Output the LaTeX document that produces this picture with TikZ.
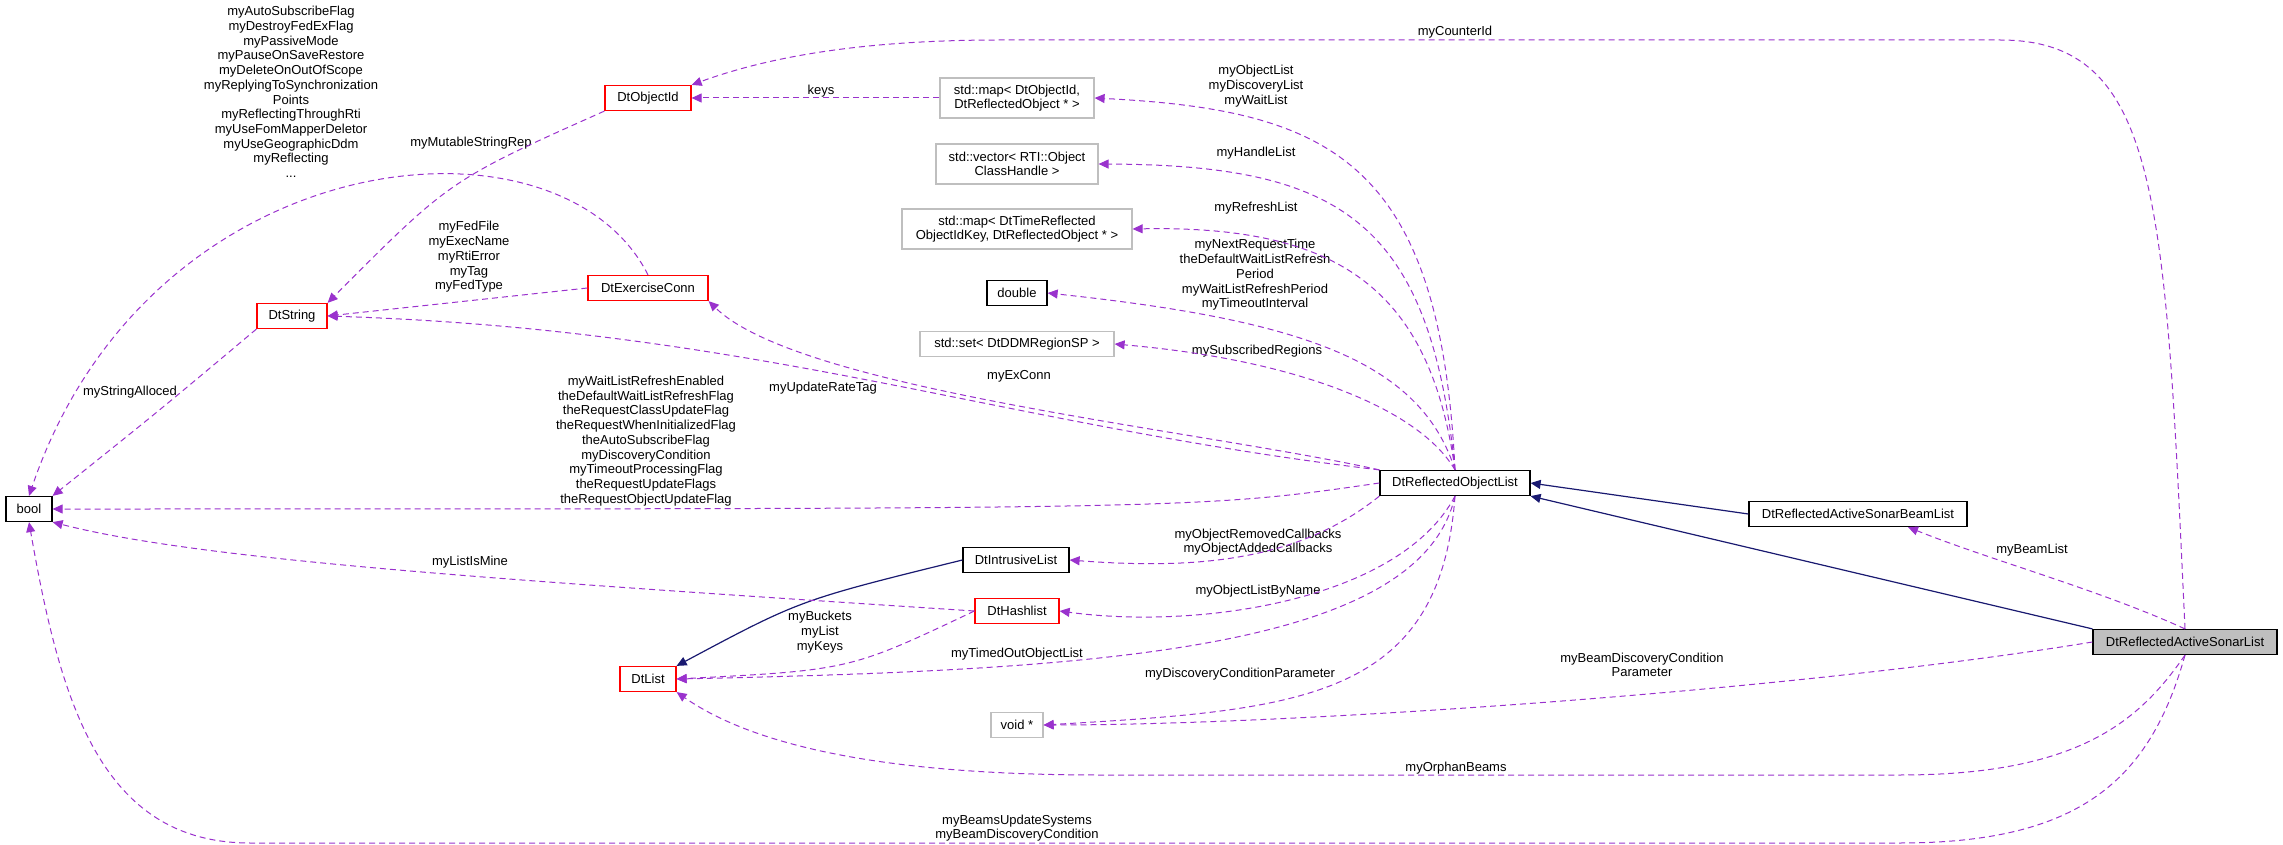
\documentclass[tikz,border=0pt]{standalone}
\usepackage{fontspec}
\setmainfont{Liberation Sans}
\usetikzlibrary{arrows.meta}
\definecolor{dep}{HTML}{9A32CD}
\definecolor{inh}{HTML}{191970}
\begin{document}
\begin{tikzpicture}[x=0.5pt,y=-0.5pt,
  every node/.style={font=\fontsize{6.5}{7.35}\selectfont, align=center, inner sep=1pt},
  cls/.style={draw, line width=0.6pt, minimum height=12.5pt, inner sep=1.5pt},
  red/.style={cls, draw=red},
  blk/.style={cls, draw=black},
  gry/.style={cls, draw=black!25},
  lbl/.style={},
  use/.style={draw=dep, dashed, dash pattern=on 3pt off 2pt, line width=0.5pt, -{Triangle[length=5pt,width=4.5pt,fill=dep]}},
  isa/.style={draw=inh, line width=0.6pt, -{Triangle[length=5pt,width=4.5pt,fill=inh]}}]
\useasboundingbox (0,0) rectangle (2283,845);
% nodes
\node[blk, minimum width=23pt] (bool) at (29,509) {bool};
\node[red, minimum width=43pt] (objid) at (648,98) {DtObjectId};
\node[red, minimum width=35pt] (dtstring) at (292,316) {DtString};
\node[red, minimum width=60pt] (exconn) at (648,288) {DtExerciseConn};
\node[gry, minimum width=77pt, minimum height=20pt] (map1) at (1017,98) {std::map\textless{} DtObjectId,\\ DtReflectedObject * \textgreater};
\node[gry, minimum width=81pt, minimum height=20pt] (vector) at (1017,164) {std::vector\textless{} RTI::Object\\ ClassHandle \textgreater};
\node[gry, minimum width=115pt, minimum height=20pt] (map2) at (1017,229) {std::map\textless{} DtTimeReflected\\ ObjectIdKey, DtReflectedObject * \textgreater};
\node[blk, minimum width=30pt] (double) at (1017,293) {double};
\node[gry, minimum width=97pt] (set) at (1017,344) {std::set\textless{} DtDDMRegionSP \textgreater};
\node[blk, minimum width=75pt] (rol) at (1455,483) {DtReflectedObjectList};
\node[blk, minimum width=109pt] (beam) at (1858,514) {DtReflectedActiveSonarBeamList};
\node[blk, fill=black!25, minimum width=92pt] (sonar) at (2185,642) {DtReflectedActiveSonarList};
\node[blk, minimum width=53pt] (intr) at (1016,560) {DtIntrusiveList};
\node[red, minimum width=42pt] (hash) at (1017,611) {DtHashlist};
\node[red, minimum width=28pt] (dtlist) at (648,679) {DtList};
\node[gry, minimum width=26pt] (void) at (1017,725) {void *};
% labels
\node (l1) at (291,92) {myAutoSubscribeFlag\\myDestroyFedExFlag\\myPassiveMode\\myPauseOnSaveRestore\\myDeleteOnOutOfScope\\myReplyingToSynchronization\\Points\\myReflectingThroughRti\\myUseFomMapperDeletor\\myUseGeographicDdm\\myReflecting\\...};
\node (l2) at (471,143) {myMutableStringRep};
\node (l3) at (469,257) {myFedFile\\myExecName\\myRtiError\\myTag\\myFedType};
\node (l4) at (130,392) {myStringAlloced};
\node (l5) at (821,91) {keys};
\node (l6) at (1455,32) {myCounterId};
\node (l7) at (1256,86) {myObjectList\\myDiscoveryList\\myWaitList};
\node (l8) at (1256,153) {myHandleList};
\node (l9) at (1256,208) {myRefreshList};
\node (l10) at (1255,275) {myNextRequestTime\\theDefaultWaitListRefresh\\Period\\myWaitListRefreshPeriod\\myTimeoutInterval};
\node (l11) at (1257,351) {mySubscribedRegions};
\node (l12) at (1019,376) {myExConn};
\node (l13) at (823,388) {myUpdateRateTag};
\node (l14) at (646,441) {myWaitListRefreshEnabled\\theDefaultWaitListRefreshFlag\\theRequestClassUpdateFlag\\theRequestWhenInitializedFlag\\theAutoSubscribeFlag\\myDiscoveryCondition\\myTimeoutProcessingFlag\\theRequestUpdateFlags\\theRequestObjectUpdateFlag};
\node (l15) at (470,562) {myListIsMine};
\node (l16) at (1258,542) {myObjectRemovedCallbacks\\myObjectAddedCallbacks};
\node (l17) at (1258,591) {myObjectListByName};
\node (l18) at (820,632) {myBuckets\\myList\\myKeys};
\node (l19) at (1017,654) {myTimedOutObjectList};
\node (l20) at (1240,674) {myDiscoveryConditionParameter};
\node (l21) at (1642,665) {myBeamDiscoveryCondition\\Parameter};
\node (l22) at (2032,550) {myBeamList};
\node (l23) at (1456,768) {myOrphanBeams};
\node (l24) at (1017,828) {myBeamsUpdateSystems\\myBeamDiscoveryCondition};
% connectors from DtReflectedObjectList
\draw[use] (rol.north) .. controls (1440,160) and (1330,110) .. (map1.east);
\draw[use] (rol.north) .. controls (1430,220) and (1340,165) .. (vector.east);
\draw[use] (rol.north) .. controls (1430,290) and (1340,225) .. (map2.east);
\draw[use] (rol.north) .. controls (1420,360) and (1300,320) .. (double.east);
\draw[use] (rol.north) .. controls (1420,410) and (1300,360) .. (set.east);
\draw[use] (rol.north west) .. controls (1200,430) and (800,390) .. (exconn.south east);
\draw[use] (rol.north west) .. controls (1000,425) and (760,330) .. (dtstring.east);
\draw[use] (rol.west) .. controls (1200,509) .. (bool.east);
\draw[use] (rol.south west) .. controls (1300,560) and (1200,570) .. (intr.east);
\draw[use] (rol.south) .. controls (1400,600) and (1200,630) .. (hash.east);
\draw[use] (rol.south) .. controls (1420,650) and (1100,670) .. (dtlist.east);
\draw[use] (rol.south) .. controls (1440,700) and (1300,710) .. (void.east);
% connectors from DtReflectedActiveSonarList
\coordinate (c1) at (2000,40);
\coordinate (c2) at (1000,40);
\draw[use] (sonar.north) .. controls (2165,200) and (2160,40) .. (c1) -- (c2) .. controls (850,40) and (760,60) .. (objid.north east);
\draw[isa] (sonar.north west) -- (rol.south east);
\draw[use] (sonar.north) .. controls (2100,590) and (1990,560) .. ([xshift=25pt]beam.south);
\draw[use] (sonar.west) .. controls (1800,690) and (1300,725) .. (void.east);
\coordinate (c3) at (1900,775);
\coordinate (c4) at (1100,775);
\draw[use] (sonar.south) .. controls (2140,720) and (2080,775) .. (c3) -- (c4) .. controls (900,775) and (760,750) .. (dtlist.south east);
\coordinate (c5) at (1900,843);
\coordinate (c6) at (250,843);
\draw[use] (sonar.south) .. controls (2150,780) and (2080,843) .. (c5) -- (c6) .. controls (100,843) and (60,700) .. (bool.south);
% others
\draw[isa] (beam.west) -- (rol.east);
\draw[isa] (intr.west) .. controls (800,600) .. (dtlist.north east);
\draw[use] (hash.west) .. controls (850,670) .. (dtlist.east);
\draw[use] (hash.west) .. controls (500,580) and (200,560) .. (bool.south east);
\draw[use] (exconn.west) -- (dtstring.east);
\draw[use] (exconn.north) .. controls (560,100) and (150,140) .. (bool.north);
\draw[use] (dtstring.south west) .. controls (160,410) .. (bool.north east);
\draw[use] (objid.south west) .. controls (450,180) .. (dtstring.north east);
\draw[use] (map1.west) -- (objid.east);
\end{tikzpicture}
\end{document}
